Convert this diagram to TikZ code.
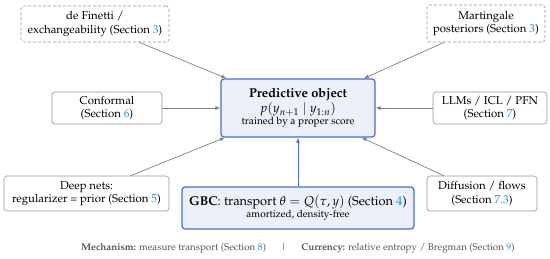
\documentclass[tikz,border=0pt]{standalone}
\usepackage[T1]{fontenc}
\usepackage{mathpazo}
\usetikzlibrary{arrows.meta}
\definecolor{secblue}{RGB}{40,140,215}
\definecolor{boxgray}{RGB}{150,150,150}
\definecolor{arrgray}{RGB}{128,128,128}
\definecolor{predfill}{RGB}{236,240,250}
\definecolor{predborder}{RGB}{70,110,200}
\definecolor{captgray}{RGB}{85,85,85}
\newcommand{\sref}[1]{\textcolor{secblue}{#1}}
\tikzset{
  sbox/.style={draw=boxgray, line width=0.6pt, rounded corners=3pt, fill=white, align=center, inner sep=0pt, font=\fontsize{11.4}{13.2}\selectfont},
  dbox/.style={sbox, dashed, dash pattern=on 3pt off 2pt},
  pbox/.style={draw=predborder, line width=1.2pt, rounded corners=3pt, fill=predfill, align=center, inner sep=0pt},
  conn/.style={draw=arrgray, line width=0.7pt, -{Latex[length=5pt,width=4pt]}},
  bconn/.style={draw=predborder, line width=0.9pt, -{Latex[length=5pt,width=4pt]}}
}
\begin{document}
\begin{tikzpicture}[x=1pt,y=-1pt]
\useasboundingbox (0,0) rectangle (550,258);
\node[dbox, minimum width=148pt, minimum height=36pt] (fin) at (95,24) {de Finetti /\\exchangeability (Section \sref{3})};
\node[dbox, minimum width=118pt, minimum height=37pt] (mart) at (486,23.5) {Martingale\\posteriors (Section \sref{3})};
\node[sbox, minimum width=110pt, minimum height=32pt] (conf) at (107,108) {Conformal\\(Section \sref{6})};
\node[sbox, minimum width=114pt, minimum height=32pt] (llm) at (490,108) {LLMs / ICL / PFN\\(Section \sref{7})};
\node[sbox, minimum width=165pt, minimum height=35pt] (deep) at (86.5,193.5) {Deep nets:\\regularizer = prior (Section \sref{5})};
\node[sbox, minimum width=110pt, minimum height=35pt] (diff) at (482,193.5) {Diffusion / flows\\(Section \sref{7.3})};
\node[pbox, minimum width=154pt, minimum height=58pt] (pred) at (298,108) {{\fontsize{12.8}{15}\selectfont\bfseries Predictive object}\\[1pt]{\fontsize{12.8}{15}\selectfont $p(y_{n+1}\mid y_{1:n})$}\\[0pt]{\fontsize{10.2}{11.5}\selectfont trained by a proper score}};
\node[pbox, minimum width=232pt, minimum height=42pt] (gbc) at (298,208) {{\fontsize{12.8}{15}\selectfont\textbf{GBC}: transport $\theta=Q(\tau,y)$ (Section \sref{4})}\\{\fontsize{10}{12.5}\selectfont amortized, density-free}};
\node[font=\fontsize{9.8}{11}\selectfont, text=captgray, inner sep=0pt] (capt) at (298,248) {\textbf{Mechanism:} measure transport (Section \sref{8})\quad\ \ |\quad\ \ \textbf{Currency:} relative entropy / Bregman (Section \sref{9})};
\draw[conn] (fin) -- (pred);
\draw[conn] (mart) -- (pred);
\draw[conn] (conf) -- (pred);
\draw[conn] (llm) -- (pred);
\draw[conn] (deep) -- (pred);
\draw[conn] (diff) -- (pred);
\draw[bconn] (gbc) -- (pred);
\end{tikzpicture}
\end{document}
